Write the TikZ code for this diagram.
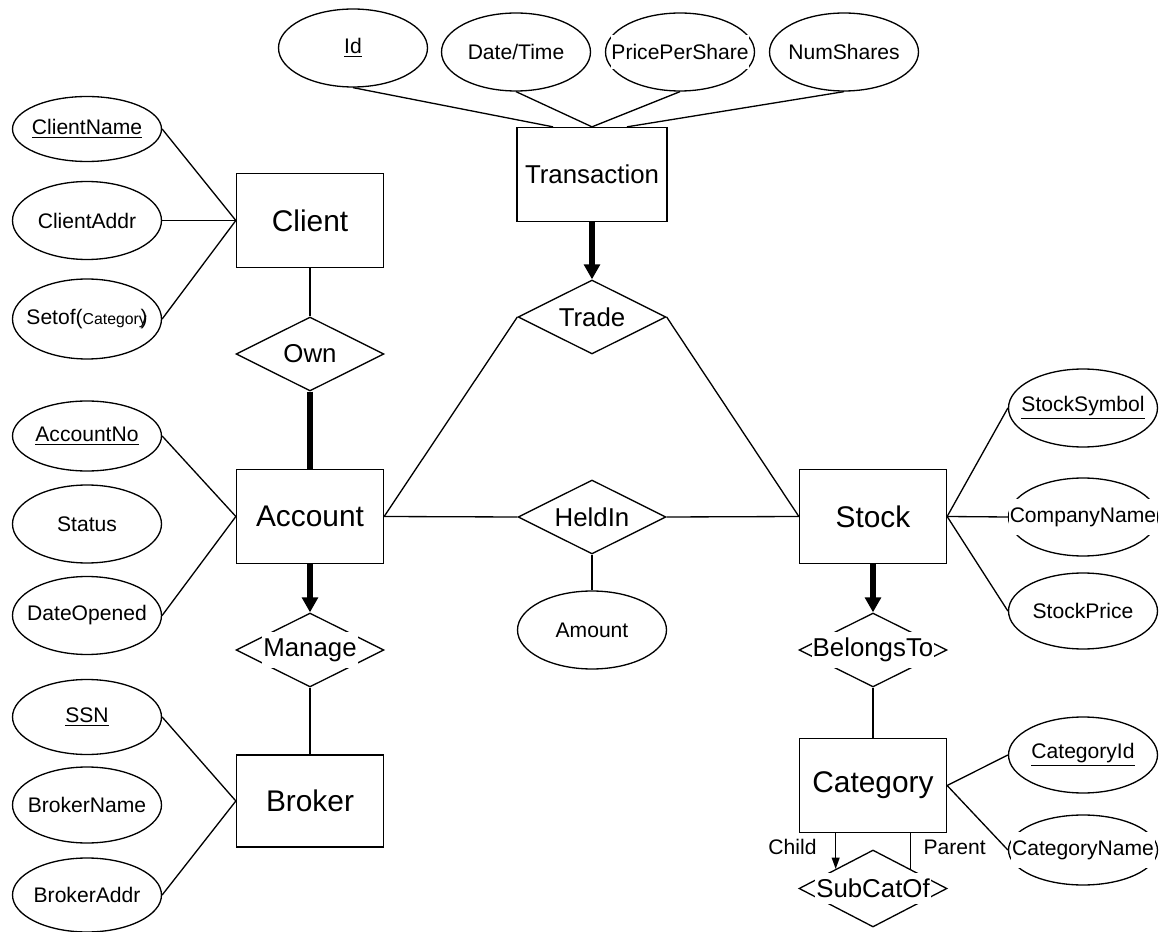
\documentclass[tikz,border=0pt]{standalone}
\usepackage{fontspec}
\setmainfont{Liberation Sans}
\usetikzlibrary{shapes.geometric,arrows.meta}

\begin{document}
\begin{tikzpicture}[x=0.02cm, y=-0.02cm, line width=0.75pt,
    entity/.style={draw, rectangle, minimum width=2.94cm, minimum height=1.88cm, inner sep=0pt, font=\fontsize{17}{20}\selectfont},
    attr/.style={draw, ellipse, minimum width=2.98cm, minimum height=1.56cm, inner sep=0pt,
        label={[fill=white, inner xsep=0.5pt, inner ysep=5pt, font=\fontsize{12}{14}\selectfont]center:#1}},
    rel/.style={draw, diamond, minimum width=2.96cm, minimum height=1.48cm, inner sep=0pt,
        label={[fill=white, inner xsep=0.5pt, inner ysep=3.4pt, font=\fontsize{14.7}{17}\selectfont]center:#1}},
    heavy/.style={line width=3.2pt},
    heavyarrow/.style={heavy, -{Triangle[width=8.9pt,length=8.5pt]}},
    childarrow/.style={-{Triangle[width=4.5pt,length=6.5pt]}}]

    \useasboundingbox (0,0) rectangle (1167,932);

    \node[attr=\underline{Id}] (id) at (353,48) {};
    \node[attr=Date/Time] (datetime) at (516,52) {};
    \node[attr=PricePerShare] (pricepershare) at (680,52) {};
    \node[attr=NumShares] (numshares) at (844,52) {};
    \node[entity, minimum width=3cm, font=\fontsize{14.7}{17}\selectfont] (transaction) at (592,174.5) {Transaction};

    \node[rel=Trade] (trade) at (592,317) {};
    \node[rel=HeldIn] (heldin) at (592,517) {};
    \node[attr=Amount] (amount) at (592,630) {};

    \node[entity] (client) at (310,220.5) {Client};
    \node[attr=\underline{ClientName}, minimum height=1.3cm] (clientname) at (87,129) {};
    \node[attr=ClientAddr] (clientaddr) at (87,220.5) {};
    \node[attr={Setof({\fontsize{9}{10}\selectfont Category}\kern-0.3em)}, minimum height=1.6cm] (setof) at (87,319) {};
    \node[rel=Own] (own) at (310,354) {};

    \node[entity] (account) at (310,516.5) {Account};
    \node[attr=\underline{AccountNo}, minimum height=1.4cm] (accountno) at (87,436) {};
    \node[attr=Status] (status) at (87,524) {};
    \node[attr=DateOpened] (dateopened) at (87,615.5) {};
    \node[rel=Manage] (manage) at (310,650) {};

    \node[entity, minimum height=1.84cm] (broker) at (310,801) {Broker};
    \node[attr=\underline{SSN}, minimum height=1.5cm] (ssn) at (87,717) {};
    \node[attr=BrokerName, minimum height=1.52cm] (brokername) at (87,805) {};
    \node[attr=BrokerAddr, minimum height=1.48cm] (brokeraddr) at (87,895) {};

    \node[entity] (stock) at (873,516.5) {Stock};
    \node[attr=\underline{StockSymbol}] (stocksymbol) at (1083,408) {};
    \node[attr=CompanyName] (companyname) at (1083,517) {};
    \node[attr=StockPrice, minimum height=1.52cm] (stockprice) at (1083,611) {};
    \node[rel=BelongsTo] (belongsto) at (873,650) {};

    \node[entity] (category) at (873,785.5) {Category};
    \node[attr=\underline{CategoryId}, minimum height=1.52cm] (categoryid) at (1083,755) {};
    \node[attr=CategoryName, minimum height=1.4cm] (categoryname) at (1083,850) {};
    \node[rel=SubCatOf, minimum height=1.54cm] (subcatof) at (873,888.5) {};

    \draw (id.south) -- ([xshift=-0.78cm]transaction.north);
    \draw (datetime.south) -- (transaction.north);
    \draw (pricepershare.south) -- (transaction.north);
    \draw (numshares.south) -- ([xshift=0.7cm]transaction.north);
    \draw[heavyarrow] (transaction.south) -- (trade.north);
    \draw (trade.west) -- (account.east);
    \draw (trade.east) -- (stock.west);
    \draw (account.east) -- (heldin.west);
    \draw (heldin.east) -- (stock.west);
    \draw (heldin.south) -- (amount.north);

    \draw (clientname.east) -- (client.west);
    \draw (clientaddr.east) -- (client.west);
    \draw (setof.east) -- (client.west);
    \draw (client.south) -- (own.north);
    \draw[heavy] (own.south) -- (account.north);

    \draw (accountno.east) -- (account.west);
    \draw (dateopened.east) -- (account.west);
    \draw[heavyarrow] (account.south) -- (manage.north);
    \draw (manage.south) -- (broker.north);

    \draw (ssn.east) -- (broker.west);
    \draw (brokeraddr.east) -- (broker.west);

    \draw (stock.east) -- (stocksymbol.west);
    \draw (stock.east) -- (companyname.west);
    \draw (stock.east) -- (stockprice.west);
    \draw[heavyarrow] (stock.south) -- (belongsto.north);
    \draw (belongsto.south) -- (category.north);

    \draw (category.east) -- (categoryid.west);
    \draw (category.east) -- (categoryname.west);
    \draw[childarrow] (category.south -| subcatof.north west) -- (subcatof.north west);
    \draw (category.south -| subcatof.north east) -- (subcatof.north east);
    \node[anchor=east, font=\fontsize{12}{14}\selectfont] (child) at (823,847) {Child};
    \node[anchor=west, font=\fontsize{12}{14}\selectfont] (parent) at (917,847) {Parent};

\end{tikzpicture}
\end{document}
